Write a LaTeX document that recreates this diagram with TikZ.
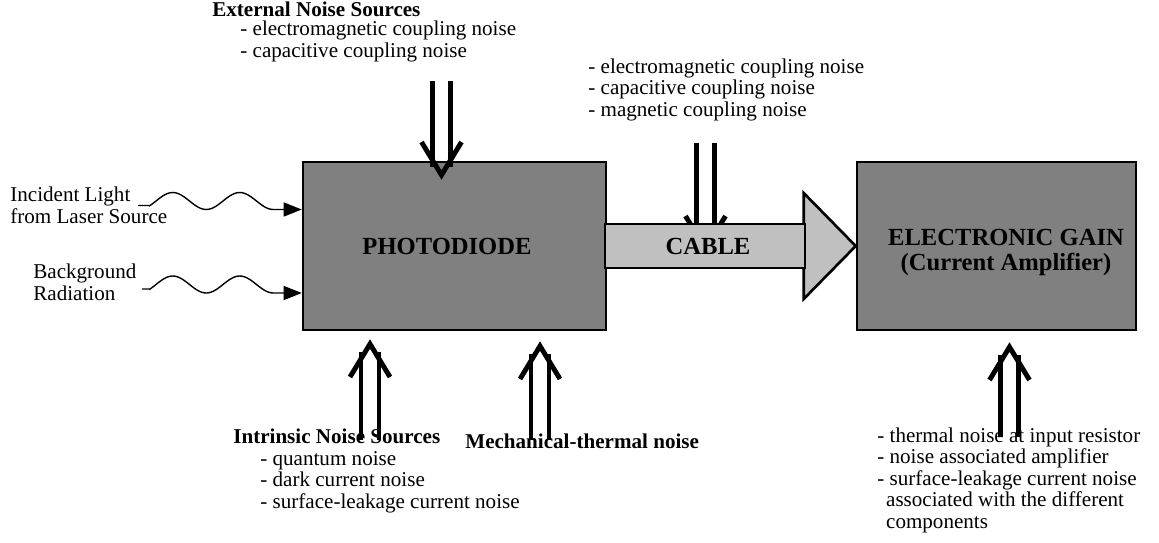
\documentclass[tikz,border=0pt]{standalone}
\usepackage{fontspec}
\setmainfont{Liberation Serif}
\usetikzlibrary{positioning, calc, arrows.meta}
\definecolor{boxgray}{HTML}{808080}
\definecolor{cablegray}{HTML}{C0C0C0}

\begin{document}
\begin{tikzpicture}[x=0.02cm, y=-0.02cm,
  box/.style={draw, line width=1.5pt, fill=boxgray, minimum height=3.36cm, inner sep=0pt},
  boxtext/.style={font=\fontsize{14}{14.2}\selectfont\bfseries, inner sep=0pt, align=center},
  txt/.style={font=\fontsize{12}{12.2}\selectfont, inner sep=0pt, align=left, anchor=base west},
  head/.style={txt, font=\fontsize{12}{12.2}\selectfont\bfseries},
  wave/.style={line width=0.8pt, -{Triangle[length=0.36cm, width=0.28cm]}},
  shaft/.style={line width=2.8pt},
  chevron/.style={line width=2.8pt, line join=miter}]
  \useasboundingbox (0,0) rectangle (1159,542);

  % Blocks
  \node[box, minimum width=6.06cm] (pd) at (454.5,246) {};
  \node[box, minimum width=5.58cm] (amp) at (996.5,246) {};
  \node[boxtext] (pdlabel) at (447,246) {PHOTODIODE};
  \node[boxtext, anchor=base] (amplabel) at (1006,270) {ELECTRONIC GAIN\\(Current Amplifier)};

  % Noise arrows
  \coordinate (extsrc) at (441.5,81);   \coordinate (extin) at (441.5,175);
  \coordinate (cabsrc) at (705.5,143);  \coordinate (cabin) at (705.5,249);
  \coordinate (intrsrc) at (370,440);   \coordinate (intrin) at (370,344);
  \coordinate (mechsrc) at (540,440);   \coordinate (mechin) at (540,346);
  \coordinate (ampsrc) at (1009.5,437); \coordinate (ampin) at (1009.5,347);
  \foreach \s/\t in {extsrc/extin, cabsrc/cabin, intrsrc/intrin, mechsrc/mechin, ampsrc/ampin} {
    \draw[shaft] ($(\s)+(-9,0)$) -- ($(\t)!0.16cm!(\s)+(-9,0)$);
    \draw[shaft] ($(\s)+(9,0)$) -- ($(\t)!0.16cm!(\s)+(9,0)$);
    \draw[chevron] ($(\t)!0.66cm!(\s)+(-20,0)$) -- (\t) -- ($(\t)!0.66cm!(\s)+(20,0)$);
  }

  % Cable
  \draw[line width=1.5pt, fill=cablegray] ($(amp.west)+(-52,-53)$) -- (amp.west) -- ($(amp.west)+(-52,53)$) -- cycle;
  \node[draw, line width=1.5pt, fill=cablegray, minimum width=4cm, minimum height=0.88cm] (cable) at (705,246) {};
  \node[boxtext] (cablelabel) at (708,246) {CABLE};

  % Light inputs
  \coordinate (lightsrc) at (138,205.5);
  \coordinate (bgsrc) at (142,289);
  \draw[wave] (lightsrc) -- (150,205.5) -- plot[domain=150:273.25, samples=60] (\x,{201-8.5*sin((\x-156)*5.373)}) -- (pd.west |- 0,209.5);
  \draw[wave] (bgsrc) -- (150,289) -- plot[domain=150:273.25, samples=60] (\x,{284.5-8.5*sin((\x-156)*5.373)}) -- (pd.west |- 0,293);

  % Texts
  \node[txt] (light) at (10,223) {Incident Light\\from Laser Source};
  \node[txt] (bg) at (33,300) {Background\\Radiation};
  \node[head] (exthead) at (212,16) {External Noise Sources};
  \node[txt] (extlist) at (240,57) {- electromagnetic coupling noise\\- capacitive coupling noise};
  \node[txt] (cablist) at (588,116) {- electromagnetic coupling noise\\- capacitive coupling noise\\- magnetic coupling noise};
  \node[head] (intrhead) at (233,443) {Intrinsic Noise Sources};
  \node[txt] (intrlist) at (260,508) {- quantum noise\\- dark current noise\\- surface-leakage current noise};
  \node[head] (mechhead) at (465,448) {Mechanical-thermal noise};
  \node[txt] (amplist) at (877,528) {- thermal noise at input resistor\\- noise associated amplifier\\- surface-leakage current noise\\\hspace*{5pt}associated with the different\\\hspace*{5pt}components};
\end{tikzpicture}
\end{document}
